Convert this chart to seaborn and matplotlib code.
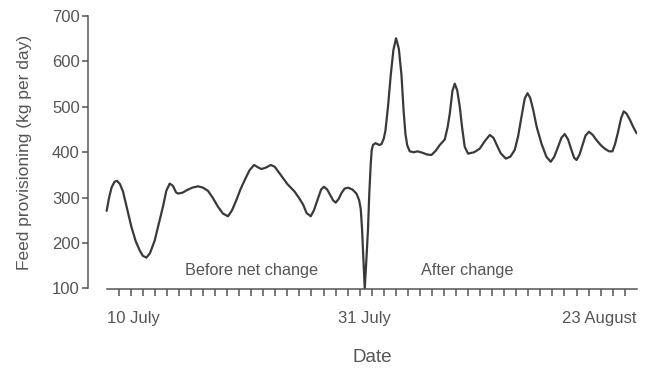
import matplotlib
matplotlib.use('Agg')
import matplotlib.pyplot as plt
import seaborn as sns
import numpy as np

# days counted from 10 July, feed in kg per day
days = [0.0, 0.2, 0.4, 0.65, 0.86, 1.1, 1.35, 1.7, 2.05, 2.4, 2.74, 3.0,
        3.3, 3.6, 3.99, 4.3, 4.67, 4.95, 5.23, 5.5, 5.75, 5.92, 6.3, 6.62,
        7.1, 7.58, 8.0, 8.41, 8.8, 9.24, 9.65, 10.07, 10.4, 10.77, 11.1, 11.46,
        11.85, 12.23, 12.55, 12.84, 13.2, 13.62, 13.95, 14.5, 15.0, 15.61, 16.0, 16.3,
        16.6, 16.94, 17.2, 17.54, 17.8, 18.04, 18.3, 18.51, 18.8, 19.01, 19.25, 19.49,
        19.75, 20.03, 20.4, 20.73, 20.95, 21.09, 21.2, 21.28, 21.35, 21.42, 21.55, 21.69,
        21.8, 21.92, 22.0, 22.11, 22.3, 22.47, 22.65, 22.81, 23.0, 23.14, 23.35, 23.58,
        23.8, 24.02, 24.25, 24.47, 24.65, 24.8, 24.95, 25.16, 25.5, 25.8, 26.2, 26.6,
        26.96, 27.3, 27.65, 28.06, 28.3, 28.48, 28.7, 28.89, 29.1, 29.31, 29.5, 29.72,
        30.0, 30.5, 30.97, 31.4, 31.8, 32.1, 32.35, 32.7, 33.13, 33.5, 33.87, 34.15,
        34.43, 34.7, 34.93, 35.15, 35.39, 35.7, 36.09, 36.5, 36.86, 37.15, 37.47, 37.75,
        38.02, 38.3, 38.58, 38.8, 39.0, 39.25, 39.49, 39.75, 40.04, 40.35, 40.65, 41.0,
        41.34, 41.7, 41.98, 42.2, 42.45, 42.7, 42.92, 43.15, 43.42, 43.7, 43.98]
feed = [271, 300, 322, 335, 337, 330, 314, 275, 236, 205, 184, 172,
        168, 178, 206, 240, 280, 315, 331, 326, 312, 309, 311, 316,
        322, 325, 322, 315, 300, 280, 265, 259, 272, 295, 318, 339,
        360, 372, 367, 363, 366, 372, 368, 348, 330, 313, 298, 285,
        266, 259, 272, 298, 318, 324, 318, 308, 294, 289, 297, 310,
        320, 322, 318, 309, 295, 275, 230, 184, 140, 100, 160, 230,
        310, 375, 405, 416, 420, 418, 416, 418, 430, 448, 500, 570,
        625, 651, 628, 570, 490, 440, 415, 402, 400, 402, 399, 395,
        394, 403, 416, 428, 455, 485, 535, 551, 536, 500, 455, 412,
        397, 400, 408, 425, 438, 432, 418, 398, 386, 390, 405, 435,
        478, 518, 530, 520, 495, 455, 419, 390, 379, 390, 412, 432,
        440, 428, 405, 388, 383, 395, 415, 437, 445, 438, 427, 416,
        408, 402, 402, 418, 445, 475, 490, 485, 472, 456, 442]

date_ticks = [0, 21.4, 44]
date_labels = ['10 July', '31 July', '23 August']
n_days = 44

grey = '#555555'

sns.set_style('ticks')
plt.rcParams['font.family'] = ['Liberation Sans', 'DejaVu Sans']

fig = plt.figure(figsize=(6.45, 3.68), dpi=100)
ax = fig.add_axes([88 / 645, 1 - 288.5 / 368, (637 - 88) / 645, (288.5 - 16) / 368])

sns.lineplot(x=days, y=feed, ax=ax, color='#3a3a3a', linewidth=1.6,
             solid_joinstyle='round', solid_capstyle='round')

ax.set_xlim(-1.55, 44.02)
ax.set_ylim(100, 700)
ax.set_yticks(range(100, 701, 100))

for s in ['top', 'right']:
    ax.spines[s].set_visible(False)
ax.spines['bottom'].set_bounds(0, n_days)
for s in ['left', 'bottom']:
    ax.spines[s].set_color(grey)
    ax.spines[s].set_linewidth(1.1)

ax.set_xticks(date_ticks)
ax.set_xticklabels(date_labels)
ax.set_xticks(np.arange(0, n_days + 1), minor=True)
ax.tick_params(axis='x', which='major', length=0, pad=16, labelsize=12, labelcolor=grey)
ax.tick_params(axis='x', which='minor', length=5, width=1.1, color=grey, direction='out')
ax.tick_params(axis='y', length=4, width=1.1, color=grey, pad=2, labelsize=12, labelcolor=grey)
labs = ax.get_xticklabels()
labs[0].set_horizontalalignment('left')
labs[2].set_horizontalalignment('right')

ax.set_ylabel('Feed provisioning (kg per day)', fontsize=12.5, color=grey)
ax.yaxis.set_label_coords(-(88 - 32) / (637 - 88), 0.5)
ax.set_xlabel('Date', fontsize=13.5, color=grey)
ax.xaxis.set_label_coords((372 - 88) / (637 - 88), -0.222)

ax.text(12.0, 140, 'Before net change', ha='center', va='center', fontsize=11.7, color=grey)
ax.text(29.95, 140, 'After change', ha='center', va='center', fontsize=11.7, color=grey)

fig.savefig('out.png', dpi=100)
